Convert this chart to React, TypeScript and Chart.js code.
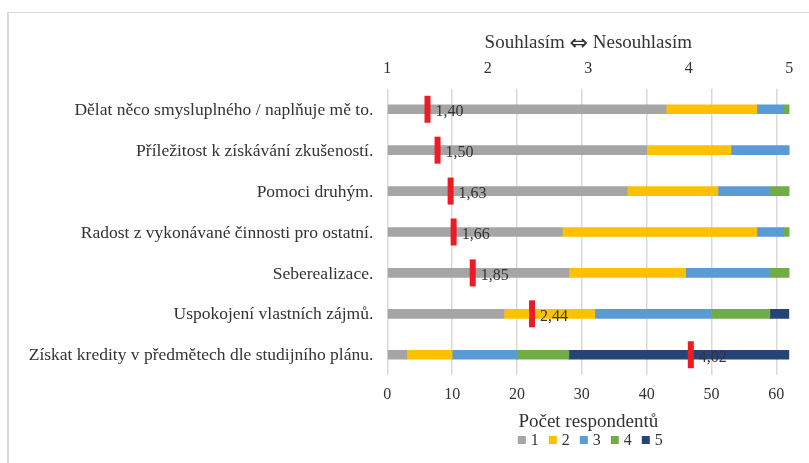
import React, { useEffect, useRef } from "react";
import { Chart, registerables } from "chart.js";

Chart.register(...registerables);

const categories = [
  "Dělat něco smysluplného / naplňuje mě to.",
  "Příležitost k získávání zkušeností.",
  "Pomoci druhým.",
  "Radost z vykonávané činnosti pro ostatní.",
  "Seberealizace.",
  "Uspokojení vlastních zájmů.",
  "Získat kredity v předmětech dle studijního plánu.",
];

const series1 = [43, 40, 37, 27, 28, 18, 3];
const series2 = [14, 13, 14, 30, 18, 14, 7];
const series3 = [4, 9, 8, 4, 13, 18, 10];
const series4 = [1, 0, 3, 1, 3, 9, 8];
const series5 = [0, 0, 0, 0, 0, 3, 34];

const seriesLabels = ["1", "2", "3", "4", "5"];
const seriesColors = ["#A5A5A5", "#FFC000", "#5B9BD5", "#70AD47", "#264478"];

const means = [1.4, 1.5, 1.63, 1.66, 1.85, 2.44, 4.02];

const countMax = 62;
const countStep = 10;
const scoreMin = 1;
const scoreMax = 5;

const topTitleParts = ["Souhlasím", "⇔", "Nesouhlasím"];
const bottomTitle = "Počet respondentů";

const FONT = "'Liberation Serif', 'Times New Roman', serif";
const ARROW_FONT = "'DejaVu Sans', sans-serif";
const TEXT = "#333333";

export default function App() {
  const ref = useRef<HTMLCanvasElement>(null);

  useEffect(() => {
    const allSeries = [series1, series2, series3, series4, series5];

    const markerPlugin = {
      id: "meanMarkers",
      afterDatasetsDraw(chart: any) {
        const ctx = chart.ctx;
        const xs = chart.scales.x2;
        const ys = chart.scales.y;
        ctx.save();
        means.forEach((m, i) => {
          const x = xs.getPixelForValue(m);
          const y = ys.getPixelForValue(i);
          ctx.fillStyle = "#ED1C24";
          ctx.fillRect(x - 3, y - 13.5, 6, 27);
          ctx.fillStyle = TEXT;
          ctx.font = `16px ${FONT}`;
          ctx.textAlign = "left";
          ctx.textBaseline = "middle";
          ctx.fillText(m.toFixed(2).replace(".", ","), x + 8, y + 3);
        });
        ctx.restore();
      },
    };

    const titlePlugin = {
      id: "topTitle",
      afterDraw(chart: any) {
        const ctx = chart.ctx;
        const area = chart.chartArea;
        ctx.save();
        const fonts = [`19px ${FONT}`, `22px ${ARROW_FONT}`, `19px ${FONT}`];
        ctx.font = `19px ${FONT}`;
        const space = ctx.measureText(" ").width;
        const widths = topTitleParts.map((p, i) => {
          ctx.font = fonts[i];
          return ctx.measureText(p).width;
        });
        const total = widths.reduce((a, b) => a + b, 0) + space * 2;
        let x = (area.left + area.right) / 2 - total / 2;
        const y = 43;
        ctx.fillStyle = TEXT;
        ctx.textAlign = "left";
        ctx.textBaseline = "middle";
        topTitleParts.forEach((p, i) => {
          ctx.font = fonts[i];
          ctx.fillText(p, x, i === 1 ? y + 1 : y);
          x += widths[i] + space;
        });
        ctx.restore();
      },
    };

    const legendPlugin = {
      id: "customLegend",
      afterDraw(chart: any) {
        const ctx = chart.ctx;
        const area = chart.chartArea;
        ctx.save();
        ctx.font = `16px ${FONT}`;
        const box = 8;
        const gap = 5;
        const itemGap = 10;
        const widths = seriesLabels.map((l) => box + gap + ctx.measureText(l).width);
        const total = widths.reduce((a, b) => a + b, 0) + itemGap * (widths.length - 1);
        let x = (area.left + area.right) / 2 - total / 2 + 2;
        const y = 440;
        seriesLabels.forEach((l, i) => {
          ctx.fillStyle = seriesColors[i];
          ctx.fillRect(x, y - box / 2, box, box);
          ctx.fillStyle = TEXT;
          ctx.textAlign = "left";
          ctx.textBaseline = "middle";
          ctx.fillText(l, x + box + gap, y + 1);
          x += widths[i] + itemGap;
        });
        ctx.restore();
      },
    };

    const chart = new Chart(ref.current as HTMLCanvasElement, {
      type: "bar",
      data: {
        labels: categories,
        datasets: allSeries.map((d, i) => ({
          label: seriesLabels[i],
          data: d,
          backgroundColor: seriesColors[i],
          borderWidth: 0,
          barThickness: 9,
          xAxisID: "x",
        })),
      },
      options: {
        indexAxis: "y",
        animation: false,
        responsive: false,
        maintainAspectRatio: false,
        layout: { padding: { left: 0, right: 19.7, top: 0, bottom: 0 } },
        plugins: {
          legend: { display: false },
          tooltip: { enabled: false },
        },
        scales: {
          x: {
            type: "linear",
            axis: "x",
            position: "bottom",
            stacked: true,
            min: 0,
            max: countMax,
            ticks: {
              stepSize: countStep,
              includeBounds: false,
              padding: 10,
              color: TEXT,
              font: { family: FONT, size: 16 },
            },
            grid: { color: "#D9D9D9", drawTicks: false, lineWidth: 1.5 },
            border: { display: false },
            title: {
              display: true,
              text: bottomTitle,
              color: TEXT,
              font: { family: FONT, size: 19 },
              padding: { top: 0, bottom: 30 },
            },
            afterFit: (s: any) => {
              s.height = 87.8;
            },
          },
          x2: {
            type: "linear",
            axis: "x",
            position: "top",
            min: scoreMin,
            max: scoreMax,
            ticks: {
              stepSize: 1,
              padding: 10,
              color: TEXT,
              font: { family: FONT, size: 16 },
            },
            grid: { display: false, drawTicks: false },
            border: { display: false },
            title: { display: false },
            afterFit: (s: any) => {
              s.height = 88.8;
            },
          },
          y: {
            stacked: true,
            grid: { display: false, drawTicks: false },
            border: { display: false },
            ticks: {
              padding: 14,
              labelOffset: 1,
              color: TEXT,
              font: { family: FONT, size: 17.5 },
            },
            afterFit: (s: any) => {
              s.width = 387.3;
            },
          },
        },
      } as any,
      plugins: [markerPlugin, titlePlugin, legendPlugin],
    });

    return () => chart.destroy();
  }, []);

  return (
    <div style={{ position: "fixed", left: 0, top: 0, width: 809, height: 463, background: "#fff" }}>
      <div
        style={{
          position: "absolute",
          left: 7,
          top: 12,
          width: 802,
          height: 451,
          borderTop: "1px solid #D9D9D9",
          borderLeft: "2px solid #D9D9D9",
          boxSizing: "border-box",
        }}
      />
      <canvas
        ref={ref}
        width={809}
        height={463}
        style={{ position: "absolute", left: 0, top: 0, width: 809, height: 463 }}
      />
    </div>
  );
}
